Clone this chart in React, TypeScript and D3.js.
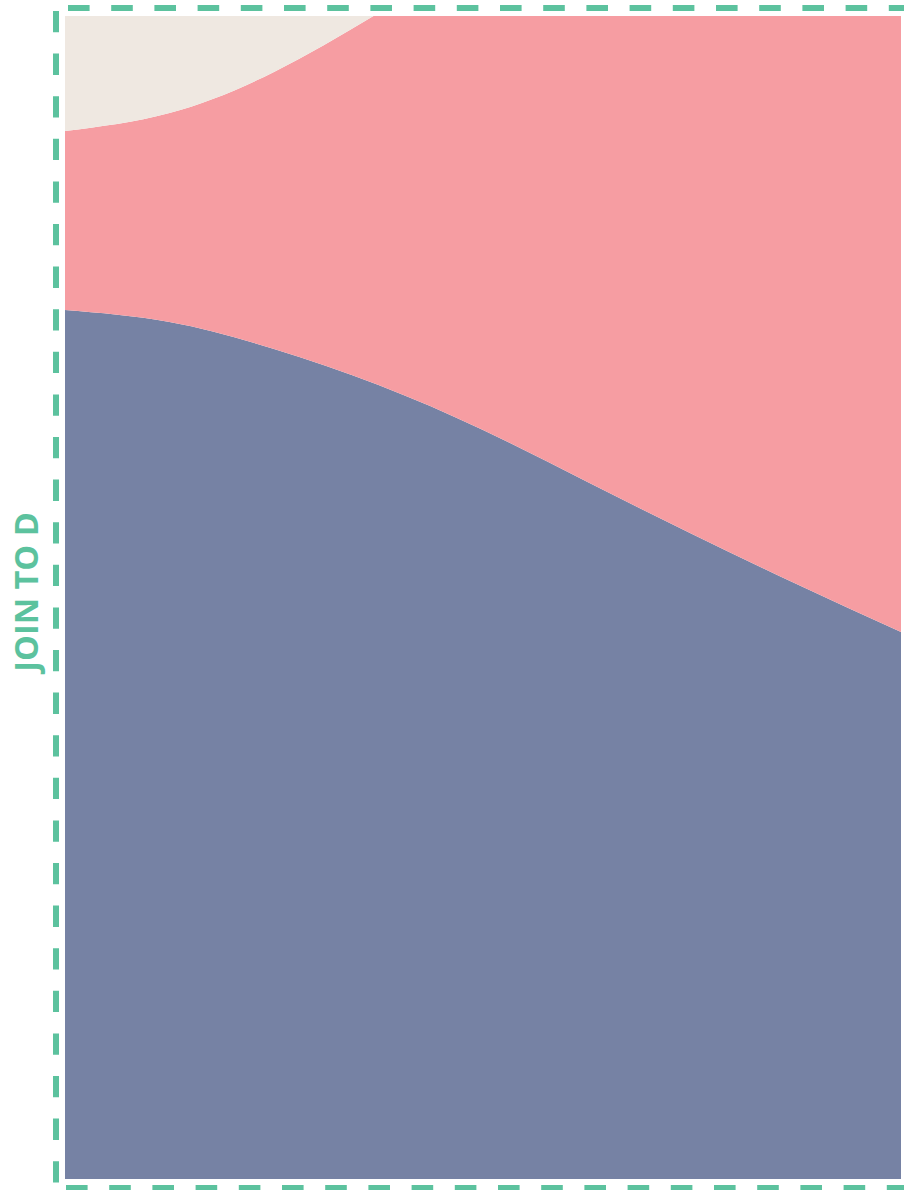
import React from "react";
import * as d3 from "d3";

// sample positions along the x axis (index)
const steps = [0, 1, 2, 3, 4, 5, 6, 7, 8];
// stacked series values (units of the y scale, 0..100)
const seriesBlue = [74.72, 73.69, 71.37, 68.27, 64.4, 59.93, 55.46, 51.16, 47.03];
const seriesPink = [15.39, 17.97, 23.82, 31.99, 41.27, 50.9, 60.1, 68.7, 77.13];
const seriesBeige = [20.0, 22.0, 24.0, 26.0, 28.0, 30.0, 30.0, 30.0, 30.0];
const seriesNames = ["blue", "pink", "beige"];
const seriesColors = ["#7682a4", "#f69da2", "#efe8e1"];
const labelText = "JOIN TO D";

const W = 904;
const H = 1190;
const plot = { left: 65, right: 901, top: 16, bottom: 1179 };

export default function App() {
  const x = d3.scaleLinear().domain([steps[0], steps[steps.length - 1]]).range([plot.left, plot.right]);
  const y = d3.scaleLinear().domain([0, 100]).range([plot.bottom, plot.top]);

  const rows = steps.map((s, i) => ({
    step: s,
    blue: seriesBlue[i],
    pink: seriesPink[i],
    beige: seriesBeige[i],
  }));
  const stack = d3.stack<any>().keys(seriesNames);
  const layers = stack(rows);
  const area = d3
    .area<any>()
    .x((d) => x(d.data.step))
    .y0((d) => y(d[0]))
    .y1((d) => y(d[1]))
    .curve(d3.curveNatural);

  const green = "#5cc29e";
  return (
    <svg
      width={W}
      height={H}
      style={{ position: "absolute", left: 0, top: 0, display: "block" }}
    >
      <defs>
        <clipPath id="plotClip">
          <rect x={plot.left} y={plot.top} width={plot.right - plot.left} height={plot.bottom - plot.top} />
        </clipPath>
      </defs>
      <rect x={0} y={0} width={W} height={H} fill="#ffffff" />
      <g clipPath="url(#plotClip)">
        {layers.map((layer, i) => (
          <path key={seriesNames[i]} d={area(layer) || ""} fill={seriesColors[i]} />
        ))}
      </g>
      {/* dashed frame */}
      <line x1={68} x2={W + 20} y1={8} y2={8} stroke={green} strokeWidth={6} strokeDasharray="21.6 21.6" />
      <line x1={56} x2={56} y1={11} y2={1184} stroke={green} strokeWidth={6} strokeDasharray="21.3 21.3" />
      <line x1={66} x2={W + 20} y1={1188} y2={1188} stroke={green} strokeWidth={6} strokeDasharray="21.6 21.6" />
      <text
        transform={`translate(25,592) rotate(-90)`}
        textAnchor="middle"
        dominantBaseline="central"
        fill={green}
        fontFamily="'Open Sans', sans-serif"
        fontWeight={700}
        fontSize={32.5}
      >
        {labelText}
      </text>
    </svg>
  );
}
